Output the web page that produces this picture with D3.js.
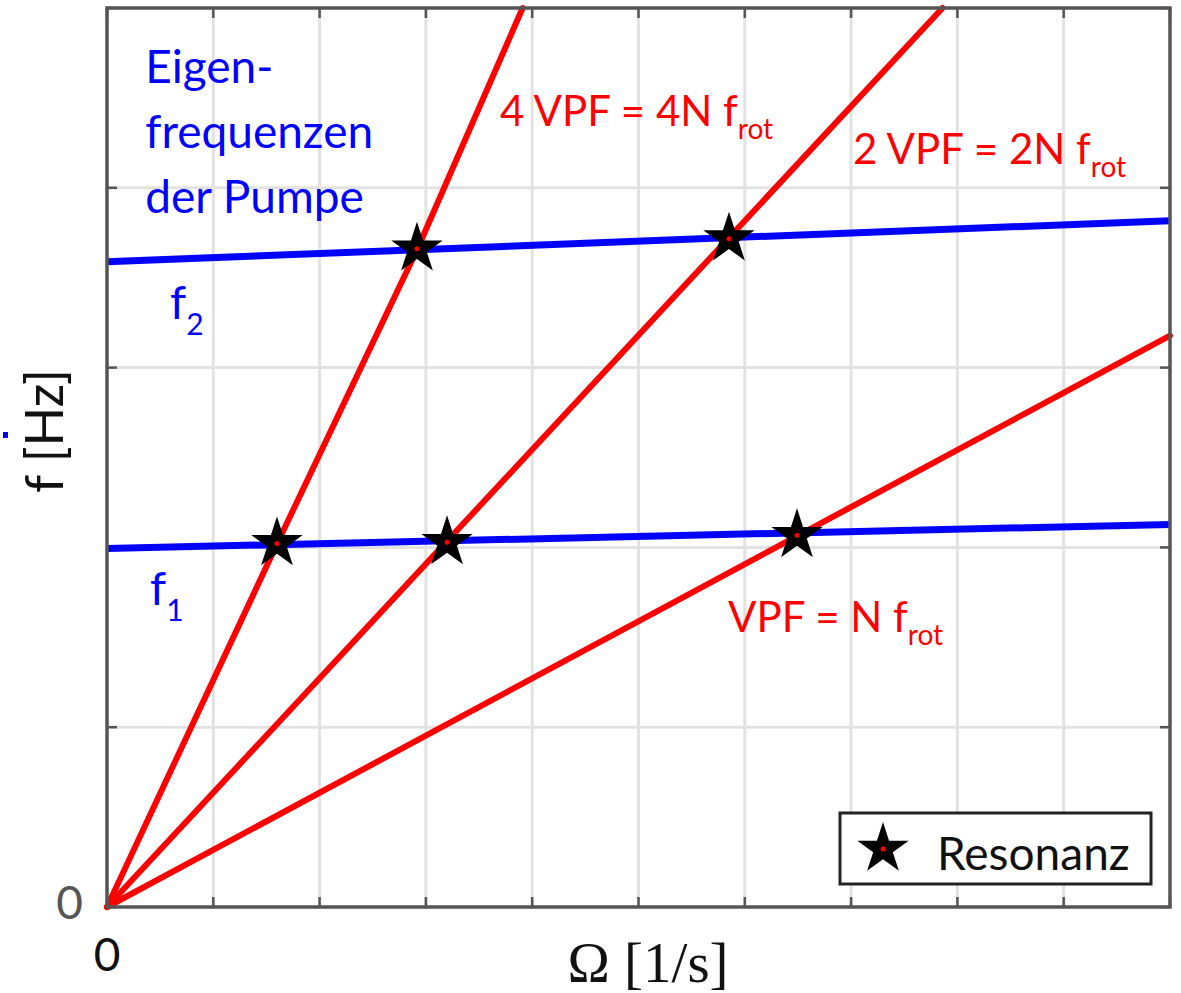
<!DOCTYPE html>
<html>
<head>
<meta charset="utf-8">
<script src="https://cdn.jsdelivr.net/npm/d3@7"></script>
<style>
  body { margin: 0; background: #fff; }
  svg { display: block; }
</style>
</head>
<body>
<script>
// grid / tick positions (data units)
const xGrid = [0, 1, 2, 3, 4, 5, 6, 7, 8, 9, 10]
const yGrid = [0, 1, 2, 3, 4, 5]
const xTickLabels = ['0']
const yTickLabels = ['0']

// natural frequencies of the pump (blue)
const eigen = [
  { name: 'f1', sub: '1', pts: [[0, 1.994], [10, 2.128]], label: [0.405, 1.678] },
  { name: 'f2', sub: '2', pts: [[0, 3.589], [10, 3.817]], label: [0.593, 3.272] }
]

// excitation lines through the origin (red)
const excitation = [
  { pre: 'VPF = N f', pts: [[0, 0], [10, 3.178]], label: [5.842, 1.528] },
  { pre: '2 VPF = 2N f', pts: [[0, 0], [7.86, 5]], label: [7.018, 4.133] },
  { pre: '4 VPF = 4N f', pts: [[0, 0], [1.6, 2.02], [2.92, 3.66], [3.91, 5]], label: [3.697, 4.344] }
]

// resonance points
const resonances = [
  [1.599, 2.022], [3.199, 2.028], [6.491, 2.067], [2.916, 3.661], [5.851, 3.717]
]

const eigenText = ['Eigen-', 'frequenzen', 'der Pumpe']
const eigenTextPos = [0.36, 4.583]

const W = 1181, H = 993
const margin = { left: 107, right: 11, top: 8, bottom: 86 }

const svg = d3.select('body').append('svg')
  .attr('width', W)
  .attr('height', H)
  .style('font-family', 'Lato, "Open Sans", sans-serif')

const x = d3.scaleLinear().domain([0, 10]).range([margin.left, W - margin.right])
const y = d3.scaleLinear().domain([0, 5]).range([H - margin.bottom, margin.top])

// stray blue dot at the left edge
svg.append('rect').attr('x', 3).attr('y', 432).attr('width', 5).attr('height', 6).attr('fill', '#0000ff')

// grid
const grid = svg.append('g').attr('stroke', '#e2e2e2').attr('stroke-width', 3)
grid.selectAll('line.gx').data(xGrid.slice(1, -1)).join('line')
  .attr('x1', d => x(d)).attr('x2', d => x(d))
  .attr('y1', y(0)).attr('y2', y(5))
grid.selectAll('line.gy').data(yGrid.slice(1, -1)).join('line')
  .attr('class', 'gy')
  .attr('x1', x(0)).attr('x2', x(10))
  .attr('y1', d => y(d)).attr('y2', d => y(d))

// ticks on all four sides, pointing inward
const tickLen = 10
const ticks = svg.append('g').attr('stroke', '#555').attr('stroke-width', 2.5)
xGrid.forEach(d => {
  ticks.append('line').attr('x1', x(d)).attr('x2', x(d)).attr('y1', y(0)).attr('y2', y(0) - tickLen)
  ticks.append('line').attr('x1', x(d)).attr('x2', x(d)).attr('y1', y(5)).attr('y2', y(5) + tickLen)
})
yGrid.forEach(d => {
  ticks.append('line').attr('x1', x(0)).attr('x2', x(0) + tickLen).attr('y1', y(d)).attr('y2', y(d))
  ticks.append('line').attr('x1', x(10)).attr('x2', x(10) - tickLen).attr('y1', y(d)).attr('y2', y(d))
})

const line = d3.line().x(d => x(d[0])).y(d => y(d[1]))

// red excitation lines
svg.append('g').selectAll('path').data(excitation).join('path')
  .attr('d', d => line(d.pts))
  .attr('fill', 'none')
  .attr('stroke', '#ff0000')
  .attr('stroke-width', 6)
  .attr('stroke-linecap', 'round')
  .attr('stroke-linejoin', 'round')

// blue eigenfrequency lines
svg.append('g').selectAll('path').data(eigen).join('path')
  .attr('d', d => line(d.pts))
  .attr('fill', 'none')
  .attr('stroke', '#0000ff')
  .attr('stroke-width', 7)

// box
svg.append('rect')
  .attr('x', x(0)).attr('y', y(5))
  .attr('width', x(10) - x(0)).attr('height', y(0) - y(5))
  .attr('fill', 'none').attr('stroke', '#555').attr('stroke-width', 3.5)

// stars
const star = d3.symbol(d3.symbolStar).size(820)
const stars = svg.append('g').selectAll('g').data(resonances).join('g')
  .attr('transform', d => `translate(${x(d[0])},${y(d[1])})`)
stars.append('path').attr('d', star).attr('fill', '#000')
stars.append('circle').attr('r', 2.5).attr('fill', '#ff0000')

// annotations
const eig = svg.append('text')
  .attr('fill', '#0000ff')
  .attr('font-size', 46)
eigenText.forEach((t, i) => {
  eig.append('tspan')
    .attr('x', x(eigenTextPos[0]))
    .attr('y', y(eigenTextPos[1]) + i * 65)
    .text(t)
})

eigen.forEach(e => {
  const t = svg.append('text')
    .attr('x', x(e.label[0])).attr('y', y(e.label[1]))
    .attr('fill', '#0000ff').attr('font-size', 46)
  t.append('tspan').text('f')
  t.append('tspan').attr('font-size', 30).attr('dy', 16).text(e.sub)
})

excitation.forEach(e => {
  const t = svg.append('text')
    .attr('x', x(e.label[0])).attr('y', y(e.label[1]))
    .attr('fill', '#ff0000').attr('font-size', 42)
  t.append('tspan').text(e.pre)
  t.append('tspan').attr('font-size', 28).attr('dy', 13).text('rot')
})

// legend
const lg = svg.append('g')
lg.append('rect')
  .attr('x', x(10) - 330).attr('y', y(0) - 94)
  .attr('width', 311).attr('height', 71)
  .attr('fill', '#fff').attr('stroke', '#222').attr('stroke-width', 3)
const lgStar = lg.append('g').attr('transform', `translate(${x(10) - 287},${y(0) - 58})`)
lgStar.append('path').attr('d', star).attr('fill', '#000')
lgStar.append('circle').attr('r', 2.5).attr('fill', '#ff0000')
lg.append('text')
  .attr('x', x(10) - 233).attr('y', y(0) - 37)
  .attr('font-size', 46).attr('fill', '#111')
  .text('Resonanz')

// tick labels
svg.append('text')
  .attr('x', x(0) - 24).attr('y', y(0) + 12)
  .attr('text-anchor', 'end').attr('font-size', 46).attr('fill', '#555')
  .text(yTickLabels[0])
svg.append('text')
  .attr('x', x(0)).attr('y', y(0) + 64)
  .attr('text-anchor', 'middle').attr('font-size', 46).attr('fill', '#111')
  .text(xTickLabels[0])

// axis labels
svg.append('text')
  .attr('transform', 'translate(63,431) rotate(-90)')
  .attr('text-anchor', 'middle').attr('font-size', 52).attr('fill', '#111')
  .text('f [Hz]')
svg.append('text')
  .attr('x', 648).attr('y', 982)
  .attr('text-anchor', 'middle').attr('font-size', 57)
  .attr('font-family', '"Liberation Serif", "DejaVu Serif", serif')
  .attr('fill', '#111')
  .text('Ω [1/s]')
</script>
</body>
</html>
